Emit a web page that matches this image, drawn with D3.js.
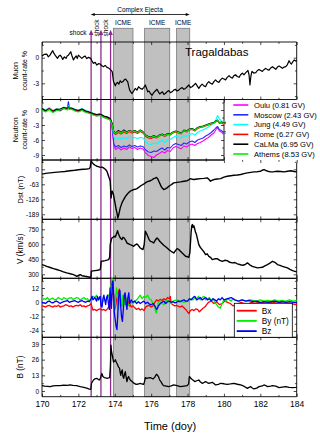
<!DOCTYPE html>
<html>
<head>
<meta charset="utf-8">
<script src="https://cdn.jsdelivr.net/npm/d3@7"></script>
<style>
  body { margin: 0; background: #fff; }
  svg { display: block; font-family: "Liberation Sans", Arial, sans-serif; }
</style>
</head>
<body>
<div id="chart"></div>
<script>
// ---- data ----
const shocks = [172.70, 173.24, 173.77];
const icmes = [[173.93, 175.0], [175.64, 177.02], [177.4, 178.12]];
const ejecta = [172.68, 178.12];

const xMajor = [170, 172, 174, 176, 178, 180, 182, 184];
const xMinor = [171, 173, 175, 177, 179, 181, 183];
const muonTicks = [0, -3], muonMinor = [1.5, -1.5, -4.5];
const neutronTicks = [0, -3, -6, -9], neutronMinor = [1.5, -1.5, -4.5, -7.5];
const dstTicks = [0, -63, -126, -189], dstMinor = [31.5, -31.5, -94.5, -157.5];
const vTicks = [300, 450, 600, 750], vMinor = [375, 525, 675, 825];
const bcTicks = [12, 0, -12, -24], bcMinor = [18, 6, -6, -18];
const bTicks = [0, 13, 26, 39], bMinor = [6.5, 19.5, 32.5];

const muon = [[170.0,0.2],[170.13,0.4],[170.26,0.43],[170.35,0.1],[170.44,0.3],[170.52,0.6],[170.59,0.82],[170.66,0.5],[170.72,0.3],[170.85,-0.08],[170.93,0.2],[171.0,0.3],[171.07,0.1],[171.14,-0.2],[171.23,0.1],[171.32,-0.08],[171.38,0.2],[171.45,0.3],[171.52,0.5],[171.58,0.7],[171.65,0.2],[171.73,-0.27],[171.8,0.0],[171.88,0.2],[171.94,-0.1],[172.0,0.3],[172.1,0.1],[172.19,-0.08],[172.28,0.1],[172.37,0.2],[172.46,-0.1],[172.56,0.04],[172.68,-0.08],[172.75,-0.4],[172.83,-0.66],[172.92,-0.55],[173.01,-0.86],[173.1,-0.7],[173.2,-0.74],[173.29,-0.95],[173.38,-1.05],[173.47,-0.9],[173.57,-1.13],[173.66,-1.2],[173.75,-1.37],[173.86,-1.64],[173.93,-2.8],[174.03,-3.3],[174.09,-3.0],[174.15,-2.9],[174.22,-3.1],[174.3,-2.7],[174.37,-2.9],[174.45,-2.8],[174.52,-2.6],[174.6,-2.5],[174.66,-2.7],[174.71,-2.8],[174.77,-3.4],[174.82,-3.8],[174.88,-4.0],[174.95,-4.2],[175.04,-3.9],[175.13,-3.6],[175.22,-3.8],[175.31,-3.4],[175.4,-3.6],[175.5,-3.7],[175.59,-3.5],[175.68,-3.2],[175.75,-3.6],[175.81,-4.0],[175.88,-3.9],[175.96,-4.2],[176.05,-4.4],[176.14,-4.1],[176.23,-3.9],[176.32,-3.7],[176.4,-4.0],[176.47,-4.25],[176.55,-4.1],[176.62,-4.0],[176.7,-4.3],[176.78,-4.2],[176.87,-4.0],[176.97,-3.85],[177.06,-4.1],[177.15,-4.0],[177.24,-3.8],[177.33,-3.7],[177.42,-3.9],[177.52,-3.8],[177.61,-3.6],[177.7,-3.5],[177.8,-3.7],[177.89,-3.6],[177.98,-3.4],[178.07,-3.2],[178.16,-3.5],[178.25,-3.4],[178.35,-3.2],[178.44,-3.0],[178.53,-3.3],[178.62,-3.6],[178.71,-3.3],[178.8,-3.1],[178.9,-3.3],[178.99,-3.4],[179.08,-3.0],[179.17,-2.8],[179.26,-3.0],[179.36,-3.1],[179.45,-2.8],[179.54,-2.6],[179.63,-2.8],[179.72,-2.9],[179.81,-2.6],[179.91,-2.4],[180.0,-2.5],[180.09,-2.6],[180.18,-2.3],[180.28,-2.1],[180.37,-2.3],[180.46,-2.4],[180.55,-2.1],[180.64,-2.0],[180.73,-2.2],[180.83,-2.3],[180.92,-2.0],[181.01,-1.8],[181.1,-2.0],[181.2,-1.75],[181.27,-1.6],[181.32,-1.5],[181.38,-2.0],[181.43,-3.2],[181.48,-2.2],[181.54,-1.6],[181.64,-1.8],[181.75,-1.75],[181.84,-1.5],[181.93,-1.37],[182.02,-1.5],[182.11,-1.6],[182.2,-1.4],[182.3,-1.25],[182.39,-1.4],[182.48,-1.45],[182.57,-1.2],[182.67,-1.05],[182.76,-1.2],[182.85,-1.37],[182.94,-1.1],[183.03,-0.98],[183.12,-1.1],[183.22,-1.25],[183.31,-1.1],[183.4,-1.05],[183.49,-0.8],[183.58,-0.35],[183.65,-0.6],[183.71,-0.74],[183.78,-0.5],[183.86,-0.27],[183.95,-0.4],[184.0,-0.3]];

const neutronDays = [170.0,170.2,170.4,170.6,170.8,171.0,171.2,171.4,171.45,171.5,171.6,171.8,172.0,172.2,172.4,172.6,172.8,173.0,173.2,173.4,173.6,173.75,173.85,173.95,174.05,174.2,174.35,174.5,174.65,174.8,174.95,175.1,175.25,175.4,175.55,175.7,175.85,176.0,176.15,176.3,176.45,176.6,176.75,176.9,177.05,177.2,177.35,177.5,177.65,177.8,177.95,178.1,178.25,178.4,178.55,178.7,178.85,179.0,179.15,179.3,179.45,179.55,179.65,179.75,179.85,179.95,180.1];
const oulu = [0.1,-0.3,0.2,-0.4,0.0,-0.2,0.3,0.1, 0.4,0.2, 0.3,-0.1,-0.3,0.0,-0.4,-0.6,-0.9,-1.2,-1.0,-1.5,-1.7, -2.0,-3.5,-7.2,-7.9, -7.5,-8.0,-7.6,-7.9,-7.4,-7.7, -7.5,-7.9,-7.6,-7.8,-8.6,-9.1, -9.3,-9.5,-9.0,-8.7,-8.3,-8.6,-8.1, -8.3,-7.6,-7.3,-7.5,-7.8,-7.2,-7.4, -7.0,-6.8,-7.1,-6.7,-6.5,-6.2, -5.8,-5.5,-5.0,-4.6,-4.0,-3.5,-4.2,-4.4,-4.8, -4.6];
const moscow = [0.2,-0.2,0.3,-0.3,0.1,-0.1,0.4,0.5, 1.7,0.6, 0.2,0.0,-0.2,0.1,-0.3,-0.5,-0.8,-1.1,-0.9,-1.4,-1.6, -1.9,-3.2,-6.8,-7.4, -7.1,-7.5,-7.2,-7.4,-7.0,-7.3, -7.1,-7.4,-7.2,-7.3,-8.0,-8.4, -8.5,-8.2,-8.3,-7.9,-7.6,-8.0,-7.5, -7.6,-7.0,-6.7,-6.9,-7.1,-6.6,-6.8, -6.4,-6.2,-6.5,-6.0,-5.8,-5.6, -5.2,-4.9,-4.5,-4.0,-3.6,-3.3,-3.9,-4.1,-4.4, -4.3];
const jung = [0.4,0.0,0.5,-0.1,0.3,0.1,0.6,0.3, 0.8,0.4, 0.5,0.2,0.0,0.3,-0.1,-0.3,-0.6,-0.9,-0.7,-1.2,-1.4, -1.7,-2.8,-5.4,-5.9, -5.6,-5.8,-5.5,-5.7,-5.4,-5.6, -5.5,-5.7,-5.5,-5.6,-6.3,-6.8, -6.9,-6.6,-6.8,-6.4,-6.1,-6.5,-6.0, -5.9,-5.5,-5.2,-5.4,-5.6,-5.1,-5.3, -4.9,-4.7,-5.0,-4.5,-4.2,-4.0, -3.7,-3.4,-3.0,-2.6,-2.0,-1.1,-1.8,-2.1,-2.4, -2.3];
const rome = [0.2,-0.1,0.3,-0.2,0.2,0.0,0.4,0.2, 0.5,0.3, 0.3,0.0,-0.2,0.1,-0.3,-0.5,-0.8,-1.0,-0.9,-1.3,-1.5, -1.8,-2.7,-4.6,-4.9, -4.5,-4.8,-4.4,-4.7,-4.3,-4.6, -4.4,-4.7,-4.3,-4.6,-5.3,-5.6, -5.7,-5.4,-5.6,-5.2,-5.0,-5.3,-4.9, -5.0,-4.6,-4.4,-4.6,-4.8,-4.2,-4.4, -4.0,-3.9,-4.2,-3.7,-3.5,-3.4, -3.2,-3.0,-2.8,-2.6,-2.4,-2.2,-2.7,-2.6,-2.8, -2.7];
const calma = [0.3,-0.2,0.2,-0.3,0.1,0.2,0.5,0.3, 0.6,0.3, 0.4,0.1,-0.1,0.2,-0.2,-0.4,-0.7,-0.9,-0.8,-1.2,-1.4, -1.7,-2.6,-4.3,-4.6, -4.1,-4.5,-4.0,-4.4,-4.1,-4.3, -4.1,-4.4,-4.0,-4.3,-5.0,-5.3, -5.4,-5.1,-5.4,-5.0,-4.8,-5.1,-4.7, -4.8,-4.4,-4.2,-4.4,-4.6,-4.0,-4.2, -3.8,-3.7,-4.0,-3.5,-3.3,-3.2, -3.0,-2.8,-2.6,-2.5,-2.2,-2.0,-2.5,-2.4,-2.6, -2.5];
const athens = [0.0,-0.4,0.1,-0.5,-0.1,0.0,0.3,0.0, 0.4,0.1, 0.2,-0.2,-0.4,-0.1,-0.5,-0.7,-1.0,-1.2,-1.1,-1.5,-1.8, -2.0,-2.9,-4.4,-4.7, -4.3,-4.6,-4.2,-4.5,-4.2,-4.4, -4.2,-4.5,-4.1,-4.4,-5.1,-5.4, -5.5,-5.2,-5.5,-5.1,-4.9,-5.2,-4.8, -4.9,-4.5,-4.3,-4.5,-4.7,-4.1,-4.3, -3.9,-3.8,-4.1,-3.6,-3.4,-3.3, -3.1,-2.9,-2.7,-2.6,-2.3,-2.1,-2.6,-2.5,-2.7, -2.6];
const stations = ["Oulu (0.81 GV)", "Moscow (2.43 GV)", "Jung (4.49 GV)", "Rome (6.27 GV)", "CaLMa (6.95 GV)", "Athems (8.53 GV)"];

const dst = [[170.0,-20],[170.2,-17],[170.44,-15],[170.7,-13],[171.0,-11],[171.25,-9],[171.54,-6],[171.8,-4],[172.1,-1],[172.3,0],[172.46,1],[172.6,3],[172.65,8],[172.7,35],[172.76,28],[172.83,22],[172.92,17],[173.01,13],[173.1,11],[173.2,8],[173.3,9],[173.38,6],[173.48,0],[173.57,-8],[173.66,-29],[173.72,-42],[173.75,-50],[173.8,-120],[173.83,-100],[173.86,-92],[173.93,-106],[174.03,-148],[174.08,-170],[174.12,-183],[174.17,-205],[174.22,-190],[174.3,-162],[174.4,-140],[174.49,-127],[174.58,-115],[174.67,-106],[174.76,-98],[174.85,-92],[174.95,-88],[175.04,-85],[175.13,-84],[175.22,-81],[175.31,-76],[175.4,-71],[175.5,-66],[175.59,-62],[175.68,-57],[175.77,-53],[175.87,-50],[175.96,-48],[176.05,-44],[176.14,-39],[176.22,-37],[176.29,-34],[176.36,-40],[176.42,-50],[176.48,-60],[176.54,-71],[176.62,-80],[176.69,-85],[176.78,-82],[176.87,-78],[176.96,-72],[177.06,-67],[177.15,-62],[177.24,-57],[177.42,-55],[177.61,-53],[177.8,-50],[177.98,-48],[178.07,-44],[178.16,-39],[178.26,-42],[178.35,-43],[178.53,-41],[178.71,-39],[178.9,-38],[179.08,-36],[179.17,-42],[179.26,-50],[179.35,-46],[179.45,-43],[179.63,-41],[179.82,-39],[180.0,-33],[180.18,-29],[180.37,-27],[180.55,-25],[180.74,-24],[180.92,-22],[181.1,-18],[181.29,-15],[181.47,-13],[181.65,-11],[181.84,-10],[182.02,-8],[182.1,-4],[182.21,-1],[182.3,-5],[182.4,-8],[182.57,-11],[182.75,-10],[182.94,-8],[183.12,-9],[183.31,-11],[183.5,-8],[183.68,-6],[183.86,-9],[184.0,-11]];

const vsw = [[170.0,397],[170.13,390],[170.26,380],[170.45,368],[170.63,357],[170.8,348],[171.0,337],[171.18,325],[171.36,314],[171.55,305],[171.73,297],[171.82,290],[171.91,280],[172.0,288],[172.1,297],[172.2,286],[172.37,280],[172.5,276],[172.65,270],[172.69,272],[172.71,330],[172.8,334],[172.92,337],[173.05,340],[173.2,347],[173.23,380],[173.25,430],[173.36,433],[173.47,437],[173.57,442],[173.66,447],[173.72,470],[173.75,597],[173.8,640],[173.84,663],[173.9,670],[173.97,680],[174.02,672],[174.08,697],[174.12,715],[174.15,737],[174.2,705],[174.26,680],[174.32,660],[174.39,647],[174.45,670],[174.52,663],[174.6,640],[174.67,613],[174.76,605],[174.85,597],[174.95,590],[175.04,580],[175.13,595],[175.22,604],[175.31,585],[175.4,563],[175.48,555],[175.55,547],[175.62,600],[175.68,730],[175.74,710],[175.81,680],[175.88,650],[175.96,630],[176.05,625],[176.14,613],[176.22,640],[176.32,663],[176.4,650],[176.47,630],[176.58,610],[176.69,590],[176.83,570],[176.97,547],[177.1,530],[177.24,513],[177.33,535],[177.43,557],[177.52,548],[177.61,530],[177.75,505],[177.89,480],[178.0,475],[178.07,470],[178.13,520],[178.2,730],[178.24,790],[178.27,797],[178.31,770],[178.35,785],[178.38,763],[178.44,720],[178.49,697],[178.55,650],[178.62,597],[178.7,570],[178.8,547],[178.9,525],[178.99,497],[179.08,505],[179.17,480],[179.26,470],[179.36,447],[179.5,455],[179.63,457],[179.77,440],[179.91,430],[180.04,440],[180.18,437],[180.32,420],[180.46,414],[180.6,418],[180.74,404],[180.87,398],[181.01,390],[181.15,395],[181.29,414],[181.42,395],[181.56,380],[181.7,372],[181.84,364],[181.97,367],[182.11,370],[182.25,385],[182.39,397],[182.53,412],[182.67,430],[182.8,420],[182.94,397],[183.08,390],[183.22,380],[183.35,372],[183.49,364],[183.63,350],[183.77,337],[183.9,330],[184.0,324]];

const bx = [[170.0,-3],[170.1,-3.5],[170.2,-4],[170.3,-3],[170.4,-2.5],[170.5,-3.5],[170.6,-4],[170.7,-3],[170.8,-3.5],[170.9,-2.5],[171.0,-4],[171.1,-3.5],[171.2,-3],[171.3,-2],[171.4,-2.5],[171.5,-3.5],[171.6,-3],[171.7,-4],[171.8,-3],[171.9,-2.5],[172.0,-3],[172.1,-2],[172.2,-3.5],[172.3,-3],[172.4,-4],[172.5,-3],[172.6,-2.5],[172.7,-1],[172.75,-4],[172.8,-6.5],[172.9,-6],[173.0,-7],[173.1,-6],[173.2,-5.5],[173.3,-6.5],[173.4,-6],[173.5,-7],[173.6,-5.5],[173.7,-3],[173.75,2],[173.8,-2],[173.85,6],[173.9,10],[173.95,4],[174.0,-6],[174.05,-3],[174.1,2],[174.15,6],[174.2,9],[174.25,11],[174.3,4],[174.35,-3],[174.4,-1],[174.45,3],[174.5,5],[174.55,2],[174.6,-2],[174.65,0],[174.7,3],[174.75,-1],[174.8,-3],[174.85,-2],[174.9,-4],[175.0,-3],[175.1,-4.5],[175.2,-6],[175.3,-5],[175.4,-6.5],[175.5,-5.5],[175.6,-7],[175.7,-4],[175.8,-3],[175.9,-2.5],[176.0,-4],[176.1,-3],[176.2,0],[176.3,2],[176.4,1],[176.5,2.5],[176.6,1.5],[176.7,3],[176.8,2],[176.9,4],[177.0,3],[177.05,5],[177.1,-1],[177.2,-2],[177.3,-3],[177.4,-2.5],[177.5,-3.5],[177.6,-4],[177.7,-3],[177.8,-4.5],[177.9,-6],[178.0,-8],[178.07,-9.5],[178.15,-7],[178.25,-6],[178.35,-7],[178.45,-5.5],[178.55,-6],[178.65,-8],[178.75,-6.5],[178.85,-5],[178.95,-4],[179.05,-2],[179.15,0],[179.3,1],[179.45,-1],[179.6,0.5],[179.75,-2],[179.9,-1],[180.05,1],[180.2,0],[180.35,-1],[180.5,-3],[180.65,-2],[180.8,-1],[180.95,0],[181.1,-1],[181.3,-2],[181.5,0],[181.7,-1],[181.9,0],[182.1,-0.5],[182.3,0.5],[182.5,0],[182.7,-0.5],[182.9,0.5],[183.1,0],[183.3,0.5],[183.5,-0.5],[183.7,-1],[183.9,-2],[184.0,-1.5]];

const by = [[170.0,2],[170.1,3],[170.2,2.5],[170.3,4],[170.4,2],[170.5,3],[170.6,3.5],[170.7,2],[170.8,2.5],[170.9,4],[171.0,3],[171.1,2],[171.2,4],[171.3,3],[171.4,2.5],[171.5,3.5],[171.6,4],[171.7,2.5],[171.8,3],[171.9,4],[172.0,3.5],[172.1,2],[172.2,3],[172.3,4],[172.4,2.5],[172.5,3],[172.6,1],[172.7,3],[172.8,5],[172.9,4],[173.0,6],[173.1,2],[173.2,5],[173.3,-1],[173.4,3],[173.5,1],[173.6,4],[173.7,7],[173.75,3],[173.8,14],[173.85,20],[173.9,12],[173.95,2],[174.0,-5],[174.05,6],[174.1,12],[174.15,4],[174.2,-6],[174.25,3],[174.3,8],[174.35,2],[174.4,-3],[174.45,6],[174.5,1],[174.55,-2],[174.6,4],[174.65,2],[174.7,-1],[174.8,-2],[174.9,0],[175.0,-1],[175.1,1],[175.2,2],[175.3,4],[175.4,6],[175.5,3],[175.6,5],[175.7,4],[175.8,6],[175.9,3],[176.0,2],[176.1,-1],[176.2,-4],[176.25,-8],[176.3,-9],[176.35,-3],[176.4,0],[176.5,1],[176.6,-1],[176.7,-2],[176.8,1],[176.9,2],[177.0,0],[177.1,-1],[177.2,1],[177.4,2],[177.6,1],[177.8,0],[178.0,1],[178.1,2],[178.2,3],[178.3,2],[178.4,4],[178.5,3],[178.6,5],[178.7,2],[178.8,4],[178.9,5],[179.0,2],[179.1,3],[179.2,4],[179.3,1],[179.4,3],[179.5,0],[179.6,-2],[179.7,-4],[179.8,-5],[179.9,-1],[180.0,2],[180.1,1],[180.2,3],[180.3,2],[180.4,1],[180.5,3],[180.6,2],[180.8,1],[181.0,2],[181.2,1],[181.4,2],[181.6,1.5],[181.8,1],[182.0,2],[182.2,1],[182.4,1.5],[182.6,1],[182.8,2],[183.0,1],[183.2,1.5],[183.4,1],[183.6,2],[183.8,1],[184.0,1.5]];

const bz = [[170.0,0],[170.1,-0.5],[170.2,-1],[170.3,0.5],[170.4,1],[170.5,0],[170.6,-0.5],[170.7,0.5],[170.8,1],[170.9,0],[171.0,-1],[171.1,0],[171.2,0.5],[171.3,1],[171.4,1.5],[171.5,0],[171.6,0.5],[171.7,1],[171.8,1.5],[171.9,0.5],[172.0,0],[172.1,1],[172.2,1.5],[172.3,0.5],[172.4,0],[172.5,1],[172.6,0.5],[172.7,3],[172.75,5],[172.8,2],[172.9,4],[173.0,1],[173.05,5],[173.1,2],[173.2,5],[173.25,-3],[173.3,-4],[173.35,3],[173.4,6],[173.5,-2],[173.55,4],[173.6,6],[173.65,-1],[173.7,-6],[173.74,12],[173.78,3],[173.82,-5],[173.86,16],[173.9,18],[173.94,6],[173.97,-8],[174.02,-14],[174.07,-20],[174.12,-23],[174.16,-12],[174.2,2],[174.24,8],[174.28,10],[174.32,-2],[174.37,-12],[174.42,-16],[174.47,-6],[174.52,6],[174.57,8],[174.62,0],[174.67,-6],[174.72,4],[174.77,8],[174.82,-1],[174.9,2],[175.0,0],[175.1,1],[175.2,-1],[175.3,0.5],[175.4,-1],[175.5,0],[175.6,1],[175.7,-1],[175.8,0],[175.9,-1.5],[176.0,-2],[176.1,-1],[176.2,-3],[176.3,-6],[176.35,-5],[176.4,-3],[176.5,-1],[176.6,0],[176.7,1],[176.8,-1],[176.9,0.5],[177.0,1],[177.1,0],[177.2,0.5],[177.3,-0.5],[177.4,0],[177.5,1],[177.6,0.5],[177.7,1.5],[177.8,2],[177.9,1],[178.0,1],[178.1,3],[178.2,2],[178.3,4],[178.4,5],[178.5,2],[178.6,3],[178.7,4],[178.8,2],[178.9,3],[179.0,4],[179.1,2],[179.2,3],[179.3,1],[179.4,3],[179.5,2],[179.6,1],[179.7,3],[179.8,2],[179.9,4],[180.0,2],[180.2,3],[180.4,4],[180.6,2],[180.8,1],[181.0,2],[181.2,1],[181.4,1.5],[181.6,0.5],[181.8,1],[182.0,0],[182.2,0.5],[182.4,0],[182.6,0.5],[182.8,1],[183.0,0],[183.2,0.5],[183.4,0],[183.6,0.5],[183.8,0],[184.0,0]];

const bmag = [[170.0,4.4],[170.15,4.0],[170.3,3.8],[170.46,3.6],[170.6,4.2],[170.8,4.4],[171.0,4.4],[171.2,4.8],[171.4,4.6],[171.54,5.0],[171.7,4.6],[171.91,4.4],[172.0,4.0],[172.1,3.6],[172.3,3.0],[172.46,2.4],[172.6,1.6],[172.68,1.4],[172.72,6.4],[172.83,9.1],[172.9,10],[173.01,10.5],[173.1,9.5],[173.16,9.1],[173.22,11],[173.29,14.5],[173.35,12],[173.42,11.1],[173.5,10.8],[173.57,10.5],[173.66,10.8],[173.72,11.1],[173.76,20],[173.79,38],[173.82,33],[173.86,30],[173.93,24],[174.0,25],[174.03,26],[174.08,24],[174.15,22],[174.2,20],[174.26,19],[174.3,15],[174.33,13],[174.37,16],[174.41,17.5],[174.45,12],[174.49,10.5],[174.54,14],[174.58,16],[174.63,11],[174.67,7.8],[174.72,11],[174.76,12],[174.8,10.5],[174.86,9],[174.95,7.8],[175.05,6.5],[175.17,5.5],[175.3,5.8],[175.4,6.4],[175.5,5.8],[175.59,5.5],[175.64,8],[175.68,11.1],[175.77,10.5],[175.86,10.8],[175.96,11.1],[176.05,10.4],[176.1,10.0],[176.2,11.5],[176.29,13.9],[176.35,13],[176.4,12],[176.47,9],[176.54,7.8],[176.62,5.5],[176.69,4.4],[176.83,4.0],[176.97,3.6],[177.1,4.2],[177.24,5.0],[177.42,4.4],[177.61,3.6],[177.8,4.0],[177.98,4.4],[178.06,6],[178.1,12],[178.16,11],[178.22,10],[178.31,9],[178.4,7.8],[178.5,8.5],[178.62,9.1],[178.71,7.5],[178.8,6.4],[178.9,7],[178.99,7.8],[179.08,7.0],[179.17,6.4],[179.26,6.8],[179.36,7.2],[179.45,6.2],[179.54,5.0],[179.7,5.5],[179.82,6.4],[180.0,6.0],[180.18,5.5],[180.36,5.9],[180.55,6.4],[180.74,5.6],[180.92,5.0],[181.1,4.0],[181.29,2.2],[181.38,3.0],[181.47,3.6],[181.56,2.5],[181.65,1.7],[181.8,2.4],[181.93,3.6],[182.11,4.2],[182.2,5.0],[182.3,4.5],[182.39,3.6],[182.57,4.0],[182.67,4.4],[182.85,4.0],[183.03,2.8],[183.2,3.2],[183.4,3.6],[183.58,3.0],[183.77,2.8],[183.95,3.0],[184.0,3.1]];

// ---- layout ----
const W = 320, H = 433;
const L = 42, R = 296.7;
const panels = [
  {top: 42,    bottom: 99.5,  right: R,   dom: [-4.899, 1.84], ticks: muonTicks, minor: muonMinor, xmax: 184},
  {top: 99.5,  bottom: 160,   right: 224, dom: [-10, 2.1],     ticks: neutronTicks, minor: neutronMinor, xmax: 180},
  {top: 160,   bottom: 219.3, right: R,   dom: [-210, 39.06],  ticks: dstTicks, minor: dstMinor, xmax: 184},
  {top: 219.3, bottom: 278.3, right: R,   dom: [260, 850],     ticks: vTicks, minor: vMinor, xmax: 184},
  {top: 278.3, bottom: 337.3, right: R,   dom: [-29.37, 20.14],ticks: bcTicks, minor: bcMinor, xmax: 184},
  {top: 337.3, bottom: 396.7, right: R,   dom: [-4.73, 44.55], ticks: bTicks, minor: bMinor, xmax: 184}
];
panels.forEach(p => { p.y = d3.scaleLinear().domain(p.dom).range([p.bottom, p.top]); });

const x = d3.scaleLinear().domain([170, 184]).range([L, R]);
const font = '"Liberation Sans", Arial, sans-serif';
const purple = "#8e2c8e";

const svg = d3.select("#chart").append("svg")
  .attr("width", W).attr("height", H);

// shaded ICME intervals
svg.append("g").selectAll("rect").data(icmes).join("rect")
  .attr("x", d => x(d[0])).attr("width", d => x(d[1]) - x(d[0]))
  .attr("y", 28.3).attr("height", 396.7 - 28.3)
  .attr("fill", "#c0c0c0").attr("stroke", "#7a7a7a").attr("stroke-width", 0.8);

svg.append("g").selectAll("text").data(icmes).join("text")
  .attr("x", d => (x(d[0]) + x(d[1])) / 2).attr("y", 25)
  .attr("text-anchor", "middle").attr("font-size", 6.5).text("ICME");

// complex ejecta arrow
const ce = svg.append("g");
ce.append("line").attr("x1", x(ejecta[0]) + 3).attr("x2", x(ejecta[1]) - 3)
  .attr("y1", 14.5).attr("y2", 14.5).attr("stroke", "#000").attr("stroke-width", 0.8);
ce.append("path").attr("d", `M${x(ejecta[0])},14.5 l4,-1.6 v3.2 z`).attr("fill", "#000");
ce.append("path").attr("d", `M${x(ejecta[1])},14.5 l-4,-1.6 v3.2 z`).attr("fill", "#000");
ce.append("text").attr("x", 140).attr("y", 11.6).attr("text-anchor", "middle")
  .attr("font-size", 6.5).text("Complex Ejecta");

// shock lines with arrow heads
const sh = svg.append("g");
sh.selectAll("line").data(shocks).join("line")
  .attr("x1", d => x(d)).attr("x2", d => x(d)).attr("y1", 34).attr("y2", 396.7)
  .attr("stroke", purple).attr("stroke-width", 1.3);
sh.selectAll("path").data(shocks).join("path")
  .attr("d", d => `M${x(d)},29.8 l2.3,5.2 h-4.6 z`).attr("fill", purple);
svg.append("text").attr("x", 86.5).attr("y", 35.2).attr("text-anchor", "end")
  .attr("font-size", 6.5).text("shock");
[98.6, 108.2].forEach(px => {
  svg.append("text").attr("transform", `translate(${px},28) rotate(-90)`)
    .attr("text-anchor", "middle").attr("font-size", 6.5).text("shock");
});

// frames and axes
const fmt = d => String(d);
panels.forEach((p, i) => {
  const g = svg.append("g");
  const xs = x.copy().domain([170, 170 + (p.right - L) / (R - L) * 14]).range([L, p.right]);
  const maj = xMajor.filter(d => d <= p.xmax), mnr = xMinor.filter(d => d <= p.xmax);
  const put = (axis, tx, ty) => g.append("g").attr("transform", `translate(${tx},${ty})`)
    .call(axis).call(a => a.select(".domain").remove())
    .call(a => a.selectAll("line").attr("stroke", "#000").attr("stroke-width", 0.7));

  put(d3.axisBottom(xs).tickValues(maj).tickSize(-3).tickFormat(i === 5 ? fmt : ""), 0, p.bottom);
  put(d3.axisBottom(xs).tickValues(mnr).tickSize(-1.8).tickFormat(""), 0, p.bottom);
  put(d3.axisTop(xs).tickValues(maj).tickSize(-3).tickFormat(""), 0, p.top);
  put(d3.axisTop(xs).tickValues(mnr).tickSize(-1.8).tickFormat(""), 0, p.top);
  put(d3.axisLeft(p.y).tickValues(p.ticks).tickSize(-3).tickPadding(3).tickFormat(fmt), L, 0);
  put(d3.axisLeft(p.y).tickValues(p.minor.filter(v => v > p.dom[0] && v < p.dom[1])).tickSize(-1.8).tickFormat(""), L, 0);
  put(d3.axisRight(p.y).tickValues(p.ticks).tickSize(-3).tickFormat(""), p.right, 0);
  put(d3.axisRight(p.y).tickValues(p.minor.filter(v => v > p.dom[0] && v < p.dom[1])).tickSize(-1.8).tickFormat(""), p.right, 0);

  g.selectAll("text").attr("font-family", font).attr("fill", "#000");
  g.selectAll("g.tick text").attr("font-size", 6.5);
  if (i === 5) g.selectAll("g.tick text").filter(function () { return this.textContent.length > 2; })
    .attr("font-size", 8.5).attr("dy", "0.9em");

  let d;
  if (i === 2) d = `M224,${p.top} H${L} V${p.bottom} H${p.right} V${p.top + 3}`;
  else d = `M${L},${p.top} H${p.right} V${p.bottom} H${L} Z`;
  g.append("path").attr("d", d).attr("fill", "none").attr("stroke", "#000").attr("stroke-width", 0.9);
});

// data lines
const lineOf = p => d3.line().x(d => x(d[0])).y(d => p.y(d[1]));
const draw = (p, data, color, w) => svg.append("path").datum(data)
  .attr("fill", "none").attr("stroke", color).attr("stroke-width", w)
  .attr("stroke-linejoin", "round").attr("d", lineOf(p));

draw(panels[0], muon, "#000", 1.2);

const nColors = ["#ff00ff", "#2a2aff", "#00ffff", "#ff0000", "#000000", "#00ee00"];
[oulu, moscow, jung, rome, calma, athens].forEach((vals, k) => {
  draw(panels[1], neutronDays.map((d, j) => [d, vals[j]]), nColors[k], 1.1);
});

draw(panels[2], dst, "#000", 1.4);
draw(panels[3], vsw, "#000", 1.4);
draw(panels[4], bx, "#ff0000", 1.3);
draw(panels[4], by, "#00ee00", 1.3);
draw(panels[4], bz, "#0000ff", 1.3);
draw(panels[5], bmag, "#000", 1.3);

// neutron legend
const nl = svg.append("g");
stations.forEach((s, k) => {
  const yy = 105 + k * 9.8;
  nl.append("line").attr("x1", 233.3).attr("x2", 248.3).attr("y1", yy).attr("y2", yy)
    .attr("stroke", nColors[k]).attr("stroke-width", 1.6);
  nl.append("text").attr("x", 254).attr("y", yy + 2.7).attr("font-size", 7.6).text(s);
});

// B component legend
const bl = svg.append("g");
bl.append("rect").attr("x", 234.3).attr("y", 303.3).attr("width", 58).attr("height", 34)
  .attr("fill", "#fff").attr("stroke", "#000").attr("stroke-width", 0.8);
[["Bx", "#ff0000"], ["By (nT)", "#00ee00"], ["Bz", "#0000ff"]].forEach((e, k) => {
  const yy = 310.7 + k * 10.2;
  bl.append("line").attr("x1", 236.7).attr("x2", 256.7).attr("y1", yy).attr("y2", yy)
    .attr("stroke", e[1]).attr("stroke-width", 1.8);
  bl.append("text").attr("x", 261.7).attr("y", yy + 3).attr("font-size", 8.3).text(e[0]);
});

// texts
svg.append("text").attr("x", 185).attr("y", 55.5).attr("font-size", 11.5).text("Tragaldabas");

const ylab = (lines, mid, xs, size) => lines.forEach((t, k) => {
  svg.append("text").attr("transform", `translate(${xs[k]},${mid}) rotate(-90)`)
    .attr("text-anchor", "middle").attr("font-size", size).text(t);
});
ylab(["Muon", "count-rate %"], (42 + 99.5) / 2, [18, 27], 7);
ylab(["Neutron", "count-rate %"], (99.5 + 160) / 2, [18, 27], 7);
ylab(["Dst (nT)"], (160 + 219.3) / 2, [23], 7.8);
ylab(["V (km/s)"], (219.3 + 278.3) / 2, [23], 8.2);
ylab(["B (nT)"], (337.3 + 396.7) / 2, [23], 8.2);

svg.append("text").attr("x", 170).attr("y", 429.5).attr("text-anchor", "middle")
  .attr("font-size", 11).text("Time (doy)");

svg.selectAll("text").attr("font-family", font);
</script>
</body>
</html>
